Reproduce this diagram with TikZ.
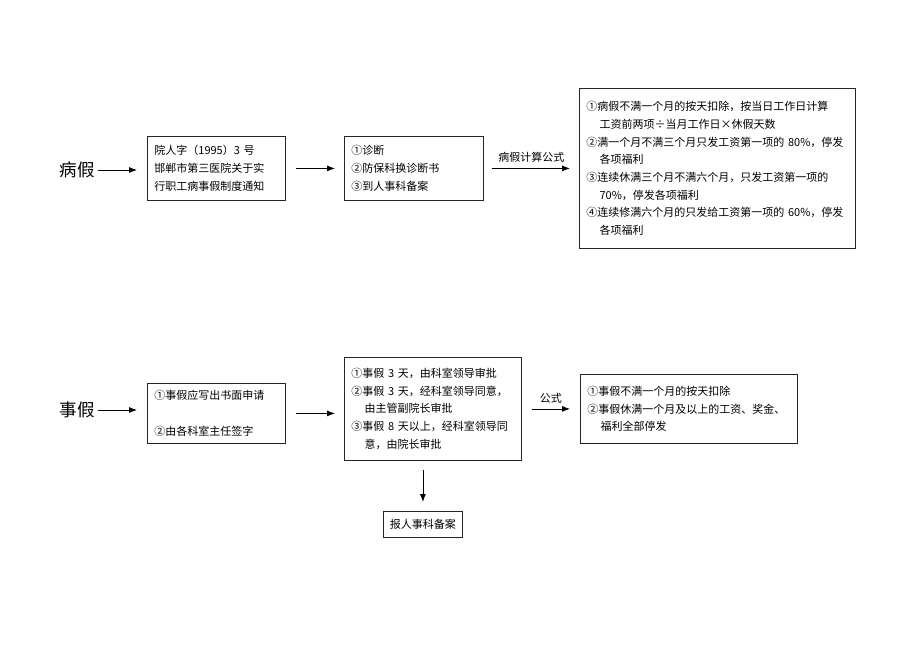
\documentclass[tikz,border=0pt]{standalone}
\usepackage{fontspec}
\setmainfont{Noto Sans CJK SC}
\usetikzlibrary{arrows.meta}
\begin{document}
\begin{tikzpicture}
[x=1pt, y=-1pt, font=\fontsize{11}{17.7}\selectfont,
 box/.style={draw=black!85, line width=0.8pt, align=left, inner xsep=7pt, inner ysep=0pt, anchor=north west},
 title/.style={font=\fontsize{17.5}{20}\selectfont, inner sep=0pt},
 arr/.style={-{Latex[length=8pt,width=6pt]}, line width=0.8pt}]
\useasboundingbox (0,0) rectangle (920,651);
\node [title] (bj) at (77,170) {病假};
\node [box, text width=124pt, minimum height=64pt] (bj1) at (147,136) {院人字（1995）3~号\\邯郸市第三医院关于实\\行职工病事假制度通知};
\node [box, text width=125pt, minimum height=64pt] (bj2) at (344,136) {①诊断\\②防保科换诊断书\\③到人事科备案};
\node [box, text width=262pt, minimum height=160pt] (bj3) at (579,88) {①病假不满一个月的按天扣除，按当日工作日计算\\\hspace*{1.2em}工资前两项÷当月工作日×休假天数\\②满一个月不满三个月只发工资第一项的~80\%，停发\\\hspace*{1.2em}各项福利\\③连续休满三个月不满六个月，只发工资第一项的\\\hspace*{1.2em}70\%，停发各项福利\\④连续修满六个月的只发给工资第一项的~60\%，停发\\\hspace*{1.2em}各项福利};
\draw [arr, shorten <=3pt, shorten >=10pt] (bj.east) -- (bj.east -| bj1.west);
\draw [arr, shorten <=10pt, shorten >=9pt] (bj1.east) -- (bj2.west);
\draw [arr, shorten <=8pt, shorten >=9pt] (bj2.east) -- (bj2.east -| bj3.west) node [midway, above=2pt] {病假计算公式};
\node [title] (sj) at (77,410) {事假};
\node [box, text width=124pt, minimum height=60pt] (sj1) at (147,383) {①事假应写出书面申请\\[17.7pt]②由各科室主任签字};
\node [box, text width=163pt, minimum height=103pt] (sj2) at (344,357) {①事假~3~天，由科室领导审批\\②事假~3~天，经科室领导同意，\\\hspace*{1.2em}由主管副院长审批\\③事假~8~天以上，经科室领导同\\\hspace*{1.2em}意，由院长审批};
\node [box, text width=203pt, minimum height=69pt] (sj3) at (580,374) {①事假不满一个月的按天扣除\\②事假休满一个月及以上的工资、奖金、\\\hspace*{1.2em}福利全部停发};
\node [box, text width=69pt, inner xsep=5pt, align=center, minimum height=26pt] (sj4) at (383,511) {报人事科备案};
\draw [arr, shorten <=3pt, shorten >=10pt] (sj.east) -- (sj.east -| sj1.west);
\draw [arr, shorten <=10pt, shorten >=9pt] (sj1.east) -- (sj1.east -| sj2.west);
\draw [arr, shorten <=10pt, shorten >=10pt] (sj2.east) -- (sj2.east -| sj3.west) node [midway, above=2pt] {公式};
\draw [arr, shorten <=9pt, shorten >=9pt] (sj2.south -| sj4.north) -- (sj4.north);
\end{tikzpicture}
\end{document}
